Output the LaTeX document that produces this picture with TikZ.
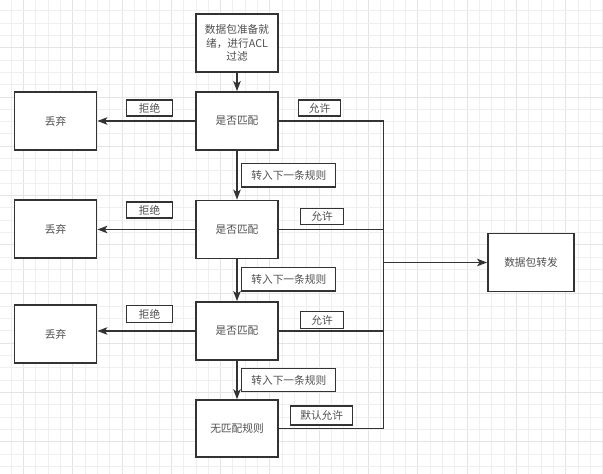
\documentclass[tikz,border=0pt]{standalone}
\usepackage{fontspec}
\newfontfamily\cjk{Noto Sans CJK SC}
\usetikzlibrary{arrows.meta}
\definecolor{gridminor}{HTML}{EFEFEF}
\definecolor{gridmajor}{HTML}{E4E4E4}
\definecolor{linec}{HTML}{333333}
\definecolor{textc}{HTML}{505050}
\tikzset{
  box/.style={draw=linec, line width=1.8pt, fill=white, minimum width=82pt, minimum height=58pt, inner sep=0pt, align=center, text=textc, font=\cjk\fontsize{10.7}{13.3}\selectfont},
  lab/.style={draw=linec, line width=1.3pt, fill=white, inner sep=0pt, align=center, text=textc, font=\cjk\fontsize{10.7}{13}\selectfont},
  conn/.style={draw=linec, line width=1.5pt},
  arr/.style={conn, -{Stealth[length=10pt,width=7.5pt,inset=2.5pt]}}
}
\begin{document}
\begin{tikzpicture}[x=1pt,y=-1pt]
\useasboundingbox (0,0) rectangle (603,474);
\fill[white] (0,0) rectangle (603,474);
% grid
\foreach \i in {0,...,48}{
  \pgfmathtruncatemacro{\m}{mod(\i,4)}
  \ifnum\m=1
    \draw[gridmajor, line width=0.9pt] ({11+12.33*\i},0) -- ({11+12.33*\i},474);
  \else
    \draw[gridminor, line width=0.9pt] ({11+12.33*\i},0) -- ({11+12.33*\i},474);
  \fi
}
\foreach \i in {0,...,38}{
  \pgfmathtruncatemacro{\m}{mod(\i,4)}
  \ifnum\m=3
    \draw[gridmajor, line width=0.9pt] (0,{10.8+12.31*\i}) -- (603,{10.8+12.31*\i});
  \else
    \draw[gridminor, line width=0.9pt] (0,{10.8+12.31*\i}) -- (603,{10.8+12.31*\i});
  \fi
}
% main boxes
\node[box] (start) at (237,43) {数据包准备就\\绪，进行ACL\\过滤};
\node[box] (m1) at (237,121) {是否匹配};
\node[box] (m2) at (237,229.5) {是否匹配};
\node[box] (m3) at (237,331) {是否匹配};
\node[box, minimum height=57pt] (nm) at (237,428.7) {无匹配规则};
\node[box] (d1) at (55.5,121) {丢弃};
\node[box] (d2) at (55.5,229) {丢弃};
\node[box] (d3) at (55.5,334) {丢弃};
\node[box, minimum width=86pt] (fwd) at (531,262.5) {数据包转发};
\coordinate (T) at (383.3,0);
% connectors
\draw[arr] (start) -- (m1);
\draw[arr] (m1) -- (m2);
\draw[arr] (m2) -- (m3);
\draw[arr] (m3) -- (nm);
\draw[arr] (m1.west) -- (m1.west -| d1.east);
\draw[arr] (m2.west) -- (m2.west -| d2.east);
\draw[arr] (m3.west) -- (m3.west -| d3.east);
\draw[conn] (m1.east) -- (m1.east -| T) -- (nm.east -| T) -- (nm.east);
\draw[conn] (m2.east) -- (m2.east -| T);
\draw[conn] (m3.east) -- (m3.east -| T);
\draw[arr] (fwd.west -| T) -- (fwd.west);
% labels
\node[lab, minimum width=45.6pt, minimum height=16pt] (r1) at (149.5,108) {拒绝};
\node[lab, minimum width=45.6pt, minimum height=16pt] (r2) at (149.5,210) {拒绝};
\node[lab, minimum width=45.6pt, minimum height=17pt] (r3) at (149.5,314) {拒绝};
\node[lab, minimum width=42.6pt, minimum height=16pt] (a1) at (319.5,108) {允许};
\node[lab, minimum width=42.6pt, minimum height=16pt] (a2) at (322,216.3) {允许};
\node[lab, minimum width=42.6pt, minimum height=17pt] (a3) at (322,320.3) {允许};
\node[lab, minimum width=62pt, minimum height=19pt] (a4) at (321.7,415.5) {默认允许};
\node[lab, minimum width=94pt, minimum height=23.5pt] (n1) at (288.8,175.3) {转入下一条规则};
\node[lab, minimum width=94pt, minimum height=23.5pt] (n2) at (288.8,279.3) {转入下一条规则};
\node[lab, minimum width=94pt, minimum height=23.5pt] (n3) at (288.8,380) {转入下一条规则};
\end{tikzpicture}
\end{document}
